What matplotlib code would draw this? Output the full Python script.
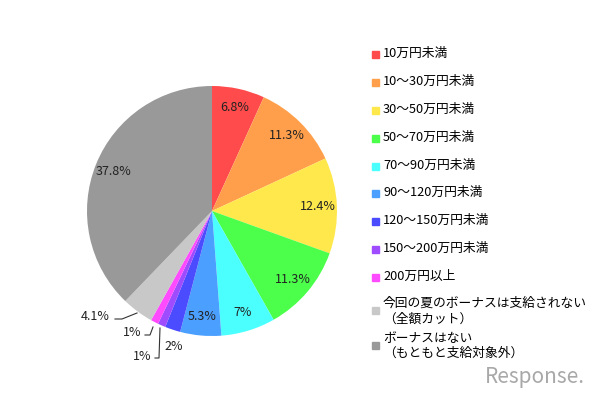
import numpy as np
import matplotlib.pyplot as plt
from matplotlib.patches import Rectangle

plt.rcParams['font.family'] = ['Noto Sans CJK JP', 'DejaVu Sans']

categories = [
    "10万円未満",
    "10〜30万円未満",
    "30〜50万円未満",
    "50〜70万円未満",
    "70〜90万円未満",
    "90〜120万円未満",
    "120〜150万円未満",
    "150〜200万円未満",
    "200万円以上",
    "今回の夏のボーナスは支給されない\n（全額カット）",
    "ボーナスはない\n（もともと支給対象外）",
]
values = [6.8, 11.3, 12.4, 11.3, 7.0, 5.3, 2.0, 1.0, 1.0, 4.1, 37.8]
value_labels = ["6.8%", "11.3%", "12.4%", "11.3%", "7%", "5.3%", "2%", "1%", "1%", "4.1%", "37.8%"]
colors = ["#FF4B4B", "#FF9F4B", "#FFE84B", "#4BFF4B", "#4BFFFF", "#4B9FFF",
          "#4B4BFF", "#9F4BFF", "#FF4BFF", "#C8C8C8", "#999999"]

W, H = 598, 398
fig = plt.figure(figsize=(W / 100, H / 100), dpi=100)

# pie centre (212, 211) px, radius 125 px
cx, cy, r = 212, 211, 125
ax = fig.add_axes([(cx - r) / W, (H - cy - r) / H, 2 * r / W, 2 * r / H])
ax.pie(values, colors=colors, startangle=90, counterclock=False,
       radius=1, wedgeprops=dict(linewidth=0))
ax.set_xlim(-1, 1)
ax.set_ylim(-1, 1)
ax.set_aspect('equal')
ax.axis('off')

# labels inside the big slices
cum = np.cumsum([0] + values[:-1])
outside = {6: None, 7: None, 8: None, 9: None}
for i, (v, lab) in enumerate(zip(values, value_labels)):
    if i in outside:
        continue
    theta = np.deg2rad((cum[i] + v / 2) / 100 * 360)
    ax.text(0.85 * np.sin(theta), 0.85 * np.cos(theta), lab,
            ha='center', va='center', fontsize=9, color='#222222')

# small slices: labels outside with leader lines (pixel layout)
def px(x, y):
    return (x - cx) / r, (cy - y) / r

outer = [
    (9, (110, 316), 'right', [(115, 319), (122, 319), (137, 313)]),
    (8, (141, 333), 'right', [(145, 335), (150, 335), (153, 327)]),
    (7, (151, 356), 'right', [(155, 358), (159, 358), (160, 328)]),
    (6, (164, 347), 'left', None),
]
for i, pos, ha, path in outer:
    tx, ty = px(*pos)
    ax.text(tx, ty, value_labels[i], ha=ha, va='center', fontsize=9,
            color='#222222', clip_on=False)
    if path:
        pts = np.array([px(*p) for p in path])
        ax.plot(pts[:, 0], pts[:, 1], color='#333333', lw=0.8, clip_on=False)

# legend drawn by hand
row_y = [53, 81, 109, 137, 165, 192, 220, 248, 276, 310, 345]
for lab, col, y in zip(categories, colors, row_y):
    nlines = lab.count("\n") + 1
    if nlines == 1:
        my = y + 1
        ty = y
    else:
        my = y
        ty = y + 1
    fig.patches.append(Rectangle(((372) / W, (H - my - 4) / H), 7 / W, 7 / H,
                                 transform=fig.transFigure, color=col))
    fig.text(383 / W, (H - ty) / H, lab, ha='left', va='center',
             fontsize=9.2, color='black', linespacing=1.25)

fig.text(535 / W, (H - 377) / H, "Response.", ha='center', va='center',
         fontsize=15, color='#A8A8A8', fontstyle='italic')

fig.savefig("out.png", dpi=100, facecolor='white')
